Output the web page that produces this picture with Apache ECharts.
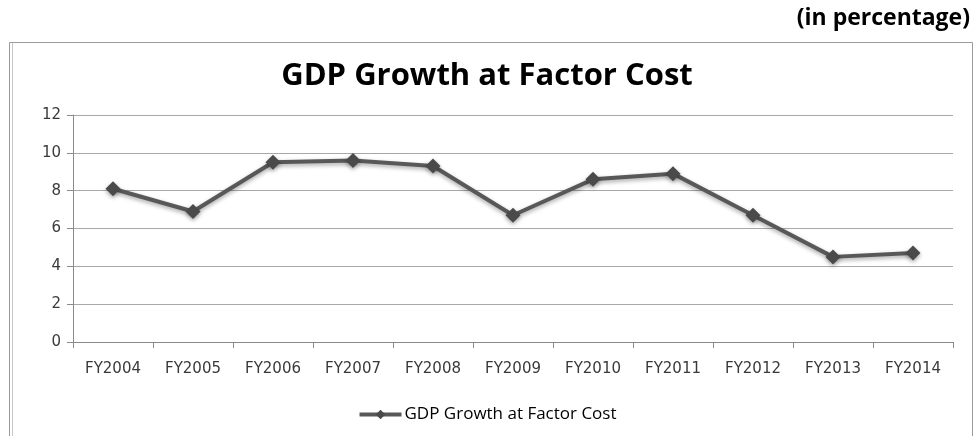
<!DOCTYPE html>
<html>
<head>
<meta charset="utf-8">
<style>html,body{margin:0;padding:0;background:#fff;}#c{width:974px;height:436px;}</style>
<script src="https://cdn.jsdelivr.net/npm/echarts@6/dist/echarts.min.js"></script>
</head>
<body>
<div id="c"></div>
<script>
const categories = ['FY2004','FY2005','FY2006','FY2007','FY2008','FY2009','FY2010','FY2011','FY2012','FY2013','FY2014'];
const growth = [8.1, 6.9, 9.5, 9.6, 9.3, 6.7, 8.6, 8.9, 6.7, 4.5, 4.7];
const seriesName = 'GDP Growth at Factor Cost';
const chartTitle = 'GDP Growth at Factor Cost';
const unitNote = '(in percentage)';

const chart = echarts.init(document.getElementById('c'), null, {renderer:'canvas'});
chart.setOption({
  backgroundColor:'#fff',
  animation:false,
  graphic:[
    {type:'rect', shape:{x:9.5, y:42.5, width:963, height:420}, style:{fill:'none', stroke:'#9a9a9a', lineWidth:1}},
    {type:'line', shape:{x1:12.5, y1:43, x2:12.5, y2:436}, style:{stroke:'#c8c8c8', lineWidth:1}},
    {type:'text', right:4, top:7, style:{text:unitNote, font:'bold 23px "Open Sans"', fill:'#000'}}
  ],
  title:{text:chartTitle, left:'center', top:56, textStyle:{fontFamily:'Open Sans', fontWeight:'bold', fontSize:31, color:'#000'}},
  legend:{top:401, left:'center', itemWidth:42, itemHeight:12, itemGap:4, data:[seriesName],
    lineStyle:{width:4, color:'#585858'},
    itemStyle:{color:'#4a4a4a'},
    textStyle:{fontFamily:'Open Sans', fontSize:17, color:'#000', padding:[0,0,0,-2]}},
  grid:{left:73, right:21, top:115, bottom:94},
  xAxis:{type:'category', data:categories, boundaryGap:true,
    axisLine:{lineStyle:{color:'#8a8a8a', width:1}},
    axisTick:{show:true, length:6, lineStyle:{color:'#8a8a8a'}},
    axisLabel:{fontFamily:'DejaVu Sans', fontSize:15, color:'#3a3a3a', margin:20, interval:0}},
  yAxis:{type:'value', min:0, max:12, interval:2,
    axisLine:{show:true, lineStyle:{color:'#8a8a8a', width:1}},
    axisTick:{show:true, length:6, lineStyle:{color:'#8a8a8a'}},
    axisLabel:{fontFamily:'DejaVu Sans', fontSize:15, color:'#3a3a3a', margin:12},
    splitLine:{lineStyle:{color:'#a8a8a8', width:1}}},
  series:[{name:seriesName, type:'line', data:growth, symbol:'diamond', symbolSize:15,
    lineStyle:{color:'#585858', width:4, shadowColor:'rgba(0,0,0,0.35)', shadowBlur:4, shadowOffsetY:2},
    itemStyle:{color:'#4a4a4a', shadowColor:'rgba(0,0,0,0.35)', shadowBlur:4, shadowOffsetY:2}}]
});
</script>
</body>
</html>
